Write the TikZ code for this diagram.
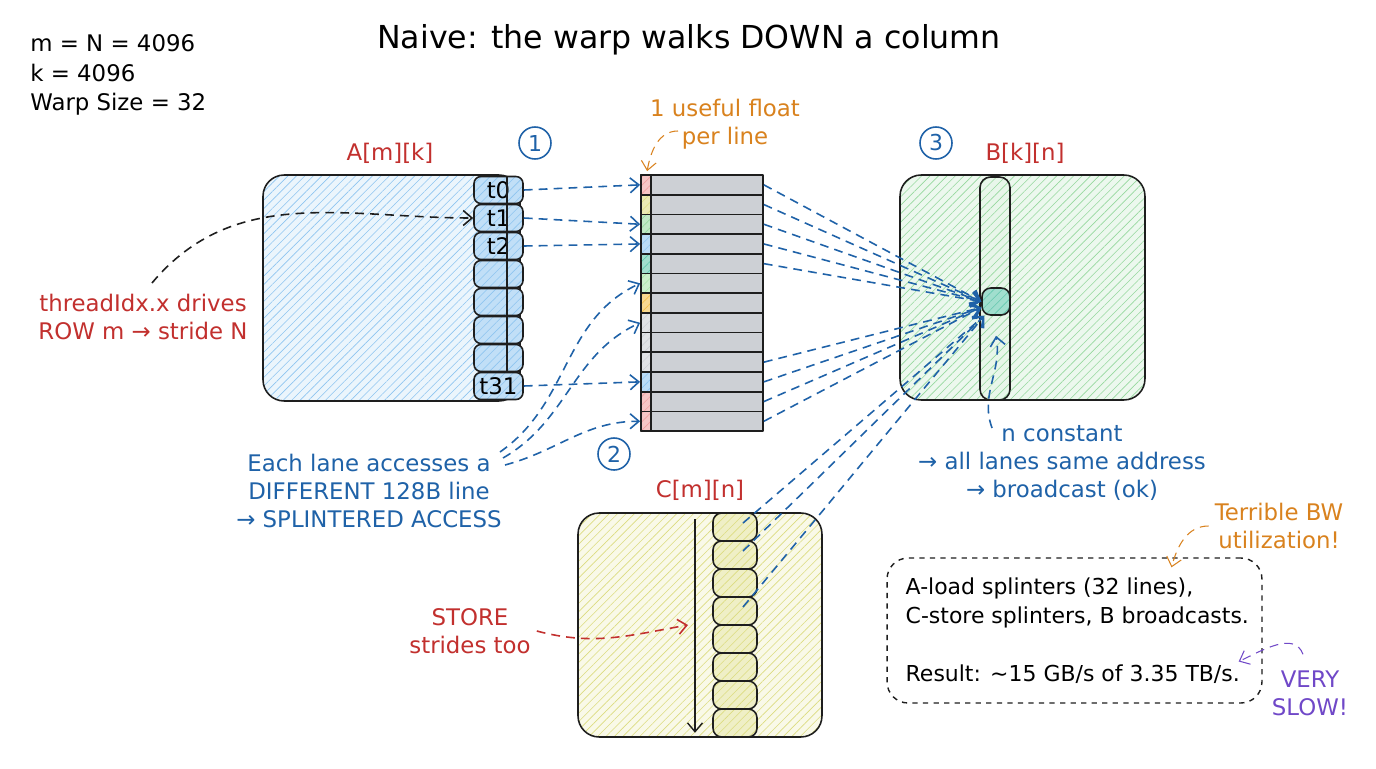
\documentclass[tikz,border=0pt]{standalone}
\usepackage{fontspec}
\setmainfont{DejaVu Sans}
\usetikzlibrary{arrows.meta,positioning,calc,patterns.meta}
\definecolor{cBLU}{HTML}{1F62A8}
\definecolor{cRED}{HTML}{C2302E}
\definecolor{cORG}{HTML}{D9821E}
\definecolor{cPUR}{HTML}{7048C8}
\definecolor{cINK}{HTML}{1E1E1E}
\definecolor{fBLU}{HTML}{8EC5F0}
\definecolor{fGRN}{HTML}{96D89E}
\definecolor{fYEL}{HTML}{DCDC80}
\definecolor{fTEA}{HTML}{63C8AE}
\definecolor{fRED}{HTML}{F0A0A0}
\definecolor{fORA}{HTML}{F5C04A}
\definecolor{fLGR}{HTML}{A8E6A8}
\definecolor{fGRY}{HTML}{CDD0D5}
\tikzset{
  hatch/.style 2 args={preaction={fill=#1!#2}, pattern={Lines[angle=45,distance=3.4pt,line width=0.35pt]}, pattern color=#1},
  mat/.style={draw=cINK, line width=0.9pt, rounded corners=12pt, inner sep=0, hatch={#1}{18}},
  lane/.style={draw=cINK, line width=0.9pt, rounded corners=4pt, inner sep=0, minimum width=0.98cm, minimum height=0.54cm, hatch={fBLU}{55}},
  fline/.style={draw=cINK, line width=1pt, fill=fGRY, inner sep=0, minimum width=2.44cm, minimum height=0.394cm},
  tag/.style={draw=cINK, line width=1pt, inner sep=0, minimum width=0.2cm, minimum height=0.394cm, hatch={#1}{60}},
  cell/.style={draw=cINK, line width=0.9pt, rounded corners=5pt, inner sep=0, minimum width=0.88cm, minimum height=0.56cm, hatch={fYEL}{45}},
  num/.style={circle, draw=cBLU, line width=0.9pt, text=cBLU, minimum size=0.64cm, inner sep=0, font=\fontsize{12.5}{14}\selectfont},
  dsh/.style={dash pattern=on 5pt off 3.5pt, line width=0.9pt}
}
\begin{document}
\begin{tikzpicture}[x=0.02cm, y=0.02cm, font=\fontsize{13}{15.9}\selectfont, >={Straight Barb[length=5pt,width=8.5pt]}, line join=round]
\fill[white] (0,0) rectangle (1376,-768);
\useasboundingbox (0,0) rectangle (1376,-768);
\node[anchor=west, align=left, inner sep=0, font=\fontsize{13}{17}\selectfont] (par) at (30,-75) {m = N = 4096\\k = 4096\\Warp Size = 32};
\node[font=\fontsize{18}{22}\selectfont] (title) at (689,-40) {Naive: the warp walks DOWN a column};

\node[mat=fBLU, minimum width=5.14cm, minimum height=4.52cm] (A) at (391.5,-288) {};
\node[mat=fGRN, minimum width=4.9cm, minimum height=4.5cm] (B) at (1022.5,-287.5) {};
\node[mat=fYEL, minimum width=4.88cm, minimum height=4.48cm] (C) at (700,-625) {};
\node[cRED] (Alab) at (390,-153) {A[m][k]};
\node[cRED] (Blab) at (1025,-153) {B[k][n]};
\node[cRED] (Clab) at (700,-490) {C[m][n]};
\node[num] (n1) at (535,-143) {1};
\node[num] (n2) at (614,-454) {2};
\node[num] (n3) at (936,-143) {3};

\node[draw=cINK, line width=0.9pt, rounded corners=6pt, inner sep=0, minimum width=0.6cm, minimum height=4.46cm, hatch={fGRN}{22}] (Bcol) at (995,-288.5) {};
\node[draw=cINK, line width=0.9pt, rounded corners=5pt, inner sep=0, minimum width=0.56cm, minimum height=0.54cm, hatch={fTEA}{60}] (bc) at (996,-301.5) {};

\foreach \t [count=\i from 0] in {t0,t1,t2,{},{},{},{},t31}
  \node[lane] (ln\i) at (498.5,{-190-28*\i}) {\t};
\draw[cINK, line width=0.6pt] ($(ln0.north)+(8.5,0)$) -- ($(ln7.north)+(8.5,0)$);

\foreach \c [count=\i from 0] in {fRED,fYEL,fGRN,fBLU,fTEA,fLGR,fORA,fGRY,fGRY,fGRY,fBLU,fRED,fRED} {
  \node[fline] (r\i) at (702,{-175-19.7*(\i+0.5)}) {};
  \node[tag=\c, anchor=west] (q\i) at (r\i.west) {};
}
\foreach \a/\b in {0/0,1/2,2/3,7/10}
  \draw[dsh, cBLU, ->] (ln\a.east) -- (r\b.west);

\foreach \i in {0,...,7}
  \node[cell] (cc\i) at (735,{-527-28*\i}) {};
\draw[cINK, line width=0.8pt, ->] ($(C.north)+(-5,-7)$) -- ($(C.south)+(-5,5)$);

\foreach \i in {0,...,4}
  \draw[dsh, cBLU, ->] (r\i.east) -- (bc.west);
\foreach \i in {9,...,12}
  \draw[dsh, cBLU, ->] (r\i.east) -- ($(bc.west)+(0,-6)$);
\foreach \i in {0,1,3}
  \draw[dsh, cBLU, ->] ($(cc\i.center)+(8,4)$) -- ($(bc.south west)+(3,0)$);

\node[cRED, align=center] (thr) at (143,-317) {threadIdx.x drives\\ROW m → stride N};
\coordinate (ts) at (152,-283);
\draw[dsh, cINK, ->] (ts) to[out=50, in=180] (ln1.west);

\node[cBLU, align=center] (lanes) at (369,-491) {Each lane accesses a\\DIFFERENT 128B line\\→ SPLINTERED ACCESS};
\coordinate (s1) at (500,-452);
\coordinate (s2) at (503,-458);
\coordinate (s3) at (505,-465);
\draw[dsh, cBLU, ->] (s1) to[out=35, in=205] (r5.west);
\draw[dsh, cBLU, ->] (s2) to[out=30, in=205] (r7.west);
\draw[dsh, cBLU, ->] (s3) to[out=15, in=180] (r12.west);

\node[cORG, align=center] (uf) at (725,-124) {1 useful float\\per line};
\coordinate (ufs) at (678,-131);
\draw[dsh, cORG, line width=0.6pt, ->] (ufs) to[out=180, in=80] ($(r0.north west)+(7,3)$);

\node[cBLU, align=center] (nc) at (1062,-463) {n constant\\→ all lanes same address\\→ broadcast (ok)};
\coordinate (ncs) at (992,-428);
\draw[dsh, cBLU, ->] (ncs) to[out=110, in=-80] ($(bc.south)+(0,-20)$);

\node[cRED, align=center] (st) at (470,-631) {STORE\\strides too};
\coordinate (cv) at (688,-625);
\draw[dsh, cRED, ->] (st.east) to[out=-15, in=190] (cv);

\node[draw=cINK, dashed, line width=0.8pt, rounded corners=12pt, minimum width=7.5cm, minimum height=2.9cm] (sum) at (1074.5,-630.5) {};
\node[anchor=west, align=left, inner sep=0, font=\fontsize{12.5}{16.4}\selectfont] (sumtxt) at ($(sum.west)+(19,0)$) {A-load splinters (32 lines),\\C-store splinters, B broadcasts.\\[16.4pt]Result: \textasciitilde15 GB/s of 3.35 TB/s.};

\node[cORG, align=center] (tb) at (1279,-526) {Terrible BW\\utilization!};
\draw[dsh, cORG, line width=0.6pt, ->] (tb.west) to[out=180, in=75] ($(sum.north)+(97,-10)$);

\node[cPUR, align=center] (vs) at (1310,-693) {VERY\\SLOW!};
\draw[dsh, cPUR, line width=0.6pt, ->] ($(vs.north)+(-7,10)$) to[out=110, in=25] ($(sum.east)+(-24,-31)$);
\end{tikzpicture}
\end{document}
